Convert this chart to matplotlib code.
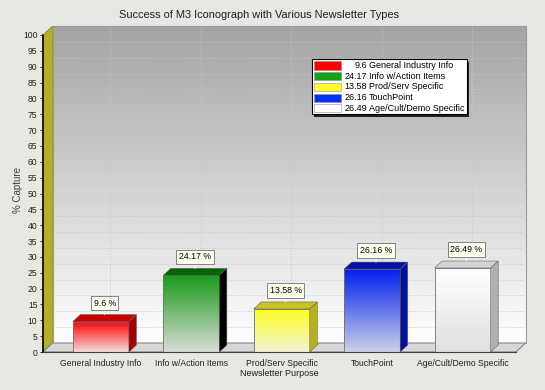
import numpy as np
import matplotlib
matplotlib.use('Agg')
import matplotlib.pyplot as plt
from matplotlib.patches import Polygon, Rectangle
from matplotlib.colors import to_rgb

plt.rcParams['font.family'] = ['Liberation Sans', 'DejaVu Sans']

# ---------------- data ----------------
categories = ["General Industry Info", "Info w/Action Items", "Prod/Serv Specific",
              "TouchPoint", "Age/Cult/Demo Specific"]
values = [9.6, 24.17, 13.58, 26.16, 26.49]
front_top = ['#FF0000', '#1A9A1A', '#FFFF20', '#0020F0', '#FFFFFF']
front_bottom = ['#F4DCDC', '#D8DCD8', '#F2F2D4', '#CCD0E6', '#E0E0E0']
top_colors = ['#C80000', '#006400', '#C8C420', '#0010A8', '#D4D4D4']
side_colors = ['#A80000', '#000000', '#B4B020', '#0010A0', '#B0B0B0']
legend_colors = ['#FF0000', '#16A016', '#FFFF30', '#0030FF', '#FFFFFF']
yticks = list(range(0, 101, 5))
title = "Success of M3 Iconograph with Various Newsletter Types"
ylabel = "% Capture"
xlabel = "Newsletter Purpose"

W, H = 545, 390
BG = '#E9E7E3'
fig = plt.figure(figsize=(W / 100, H / 100), dpi=100, facecolor=BG)
ax = fig.add_axes([43 / W, 1 - 352 / H, 473 / W, 317 / H])
XMIN, XMAX = -0.64, 4.59
ax.set_xlim(XMIN, XMAX)
ax.set_ylim(0, 100)
ax.patch.set_visible(False)


def off_data(dxp, dyp):
    p0 = ax.transData.transform((0, 0))
    p1 = ax.transData.inverted().transform(p0 + np.array([dxp, dyp]))
    return p1[0], p1[1]


wdx, wdy = off_data(9.5, 9)
bdx, bdy = off_data(7.5, 7)
bar_w = 0.62


def vgrad(c_top, c_bot, n=128):
    t = np.linspace(0, 1, n)[:, None]
    a = np.array(to_rgb(c_top))
    b = np.array(to_rgb(c_bot))
    return (a * (1 - t) + b * t)[:, None, :].repeat(2, axis=1)


# back wall
ax.imshow(vgrad('#A4A4A4', '#FFFFFF'), extent=(XMIN + wdx, XMAX + wdx, wdy, 100 + wdy),
          aspect='auto', interpolation='bilinear', clip_on=False, zorder=0)
ax.add_patch(Rectangle((XMIN + wdx, wdy), XMAX - XMIN, 100, fill=False,
                       ec='#9A9A9A', lw=0.8, clip_on=False, zorder=1))
# grid on wall
for y in yticks[1:-1]:
    ax.plot([XMIN + wdx, XMAX + wdx], [y + wdy, y + wdy], ls=(0, (2, 2)),
            color='#C8C8C8', lw=0.5, clip_on=False, zorder=1)
for i in range(len(categories)):
    ax.plot([i + wdx, i + wdx], [wdy, 100 + wdy], ls=(0, (2, 2)),
            color='#C8C8C8', lw=0.5, clip_on=False, zorder=1)

# left wall
ax.add_patch(Polygon([(XMIN, 0), (XMIN, 100), (XMIN + wdx, 100 + wdy), (XMIN + wdx, wdy)],
                     closed=True, fc='#B3AF2A', ec='#8A8620', lw=0.5, clip_on=False, zorder=2))
# floor
ax.add_patch(Polygon([(XMIN, 0), (XMAX, 0), (XMAX + wdx, wdy), (XMIN + wdx, wdy)],
                     closed=True, fc='#D6D6D6', ec='#7A7A7A', lw=0.7, clip_on=False, zorder=2))

# bars
for i, v in enumerate(values):
    x0, x1 = i - bar_w / 2, i + bar_w / 2
    ax.imshow(vgrad(front_top[i], front_bottom[i]), extent=(x0, x1, 0, v),
              aspect='auto', interpolation='bilinear', clip_on=False, zorder=3)
    ax.add_patch(Rectangle((x0, 0), bar_w, v, fill=False, ec='#707070', lw=0.6,
                           clip_on=False, zorder=4))
    ax.add_patch(Polygon([(x0, v), (x1, v), (x1 + bdx, v + bdy), (x0 + bdx, v + bdy)],
                         closed=True, fc=top_colors[i], ec='#606060', lw=0.4,
                         clip_on=False, zorder=4))
    ax.add_patch(Polygon([(x1, 0), (x1, v), (x1 + bdx, v + bdy), (x1 + bdx, bdy)],
                         closed=True, fc=side_colors[i], ec='#606060', lw=0.4,
                         clip_on=False, zorder=4))
    ax.annotate(f"{v} %", xy=(i + bdx / 2, v + bdy), xytext=(0, 7),
                textcoords='offset pixels', ha='center', va='bottom', fontsize=6.3,
                bbox=dict(boxstyle='square,pad=0.3', fc='#FFFFEE', ec='#707070', lw=0.6),
                arrowprops=dict(arrowstyle='-', color='#F4F4F4', lw=0.8,
                                shrinkA=0, shrinkB=0),
                zorder=6, annotation_clip=False)

ax.set_xlim(XMIN, XMAX)
ax.set_ylim(0, 100)

# axes styling
for s in ['top', 'right']:
    ax.spines[s].set_visible(False)
ax.spines['left'].set_color('black')
ax.spines['left'].set_linewidth(1.2)
ax.spines['left'].set_zorder(5)
ax.spines['bottom'].set_color('#404040')
ax.spines['bottom'].set_linewidth(0.8)
ax.spines['bottom'].set_zorder(5)

ax.set_yticks(yticks)
ax.set_yticklabels([str(t) for t in yticks])
ax.tick_params(axis='y', labelsize=6.2, length=2, width=0.6, pad=2, labelcolor='#202020')
ax.set_xticks(range(len(categories)))
ax.set_xticklabels(categories)
ax.tick_params(axis='x', labelsize=6.2, length=0, pad=5, labelcolor='#202020')

ax.set_ylabel(ylabel, fontsize=7, color='#404040')
ax.yaxis.set_label_coords(-0.043, 0.51)
ax.set_xlabel(xlabel, fontsize=6.5, labelpad=1, color='#202020')
fig.text(259 / W, 1 - 15 / H, title, ha='center', va='center', fontsize=7.9, color='#202020')


# legend (manual, figure pixels)
def fp(x, y):
    return (x / W, 1 - y / H)


lx0, ly0, lx1, ly1 = 312, 59, 467, 114
fig.patches.append(Rectangle(fp(lx0 + 2, ly1 + 3), (lx1 - lx0) / W, (ly1 - ly0) / H,
                             transform=fig.transFigure, fc='#202020', ec='none', zorder=7))
fig.patches.append(Rectangle(fp(lx0, ly1), (lx1 - lx0) / W, (ly1 - ly0) / H,
                             transform=fig.transFigure, fc='white', ec='black', lw=0.8, zorder=8))
row_y = [65.5, 76.2, 86.9, 97.6, 108.3]
for k, (name, v) in enumerate(zip(categories, values)):
    yc = row_y[k]
    fig.patches.append(Rectangle(fp(314, yc + 4), 27 / W, 8 / H, transform=fig.transFigure,
                                 fc=legend_colors[k], ec='#909090', lw=0.4, zorder=9))
    fig.text(*fp(367, yc), str(v), ha='right', va='center', fontsize=6.5, zorder=10)
    fig.text(*fp(369, yc), name, ha='left', va='center', fontsize=6.5, zorder=10)

fig.savefig('out.png', dpi=100, facecolor=BG)
